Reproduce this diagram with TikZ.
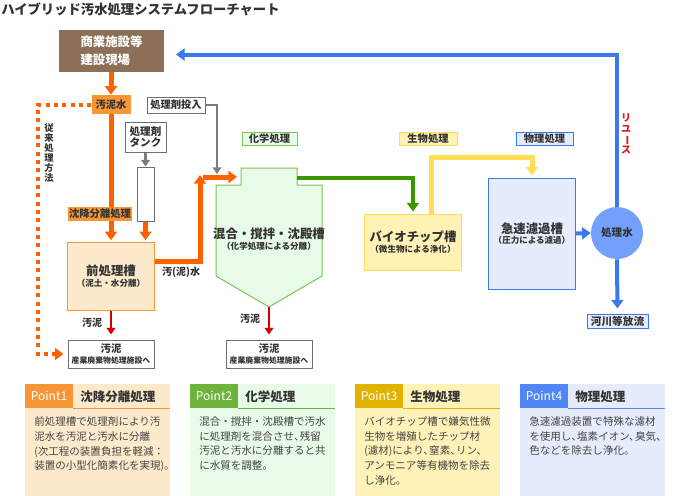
\documentclass[tikz,border=0pt]{standalone}
\usepackage{fontspec}
\setmainfont{Noto Sans CJK JP}
\usetikzlibrary{arrows.meta}
\definecolor{cbrown}{RGB}{139,111,86}
\definecolor{corange}{RGB}{255,96,0}
\definecolor{clorange}{RGB}{247,150,52}
\definecolor{cpre}{RGB}{253,234,204}
\definecolor{cgreen}{RGB}{60,150,0}
\definecolor{cgreenb}{RGB}{125,195,85}
\definecolor{cgreenf}{RGB}{232,251,232}
\definecolor{cyellow}{RGB}{255,222,85}
\definecolor{cyellowf}{RGB}{255,242,180}
\definecolor{cblue}{RGB}{60,120,240}
\definecolor{cbluef}{RGB}{230,236,252}
\definecolor{ccircle}{RGB}{115,160,250}
\definecolor{cred}{RGB}{210,0,0}
\definecolor{creuse}{RGB}{225,25,25}
\definecolor{cgray}{RGB}{125,125,125}
\definecolor{cborder}{RGB}{110,110,110}
\definecolor{ctext}{RGB}{51,51,51}
\definecolor{cbody}{RGB}{68,68,68}
\definecolor{cp1}{RGB}{247,150,52}
\definecolor{cp2}{RGB}{110,180,60}
\definecolor{cp3}{RGB}{226,178,0}
\definecolor{cp4}{RGB}{80,135,245}
\definecolor{cpf1}{RGB}{253,234,204}
\definecolor{cpf2}{RGB}{232,251,232}
\definecolor{cpf3}{RGB}{255,242,185}
\definecolor{cpf4}{RGB}{230,236,252}
\newcommand\myfs[2]{\fontsize{#1}{#2}\selectfont}
\newcommand\tc{、\kern-0.45em}
\begin{document}
\begin{tikzpicture}[x=0.75pt,y=-0.75pt,
  box/.style={inner sep=0, text=ctext, align=center},
  tag/.style={box, draw, line width=0.75pt, font=\bfseries\myfs{7.7pt}{9pt}},
  txt/.style={inner sep=0, text=ctext, align=center},
  maintxt/.style={txt, font=\bfseries\myfs{9.3pt}{11pt}},
  subtxt/.style={txt, font=\bfseries\myfs{6.4pt}{7pt}},
  oline/.style={draw=corange, line width=3.75pt, -{Triangle[width=9pt,length=6.5pt]}},
  gline/.style={draw=cgray, line width=1.6pt, -{Triangle[width=6.5pt,length=5pt]}},
  rline/.style={draw=cred, line width=1.6pt, -{Triangle[width=6.5pt,length=5pt]}},
  grline/.style={draw=cgreen, line width=3pt, -{Triangle[width=9pt,length=6.5pt]}},
  yline/.style={draw=cyellow, line width=3.75pt, -{Triangle[width=9pt,length=6.5pt]}},
  bline/.style={draw=cblue, line width=3pt, -{Triangle[width=9pt,length=6.5pt]}},
  ptag/.style={inner sep=0, minimum width=36pt, minimum height=18pt, text=white, font=\myfs{9pt}{10pt}},
  ptitle/.style={anchor=west, inner sep=0, text=ctext, font=\bfseries\myfs{9.4pt}{11pt}},
  pbody/.style={anchor=north west, inner sep=0, align=left, text=cbody, font=\myfs{7.9pt}{11pt}}
]
\useasboundingbox[fill=white] (0,0) rectangle (690,496);

% title
\node[anchor=west, inner sep=0, text=ctext, font=\bfseries\myfs{10pt}{12pt}] (title) at (1,9.5) {ハイブリッド汚水処理システムフローチャート};

% source
\node[box, fill=cbrown, minimum width=78.75pt, minimum height=31.5pt, text=white, font=\bfseries\myfs{9.3pt}{13.5pt}, align=left] (src) at (111.5,51) {商業施設等\\建設現場};

\node[box, fill=clorange, minimum width=29.25pt, minimum height=14.25pt, font=\bfseries\myfs{7.7pt}{9pt}] (sw) at (111,104.5) {汚泥水};

\node[tag, draw=cborder, fill=white, minimum width=43.5pt, minimum height=12pt] (dose) at (176,105) {処理剤投入};
\node[tag, draw=cborder, fill=white, minimum width=30.75pt, minimum height=22.5pt, font=\bfseries\myfs{7.9pt}{8.4pt}] (tanklbl) at (145.5,137) {処理剤\\タンク};
\node[draw=cborder, fill=white, line width=0.75pt, inner sep=0, minimum width=12.75pt, minimum height=40.5pt] (tube) at (145.5,194) {};

\node[draw=clorange, fill=cpre, line width=0.75pt, inner sep=0, minimum width=65.25pt, minimum height=51pt] (pre) at (111,276) {};
\node[maintxt] (preT1) at (111,271) {前処理槽};
\node[subtxt] (preT2) at (111,283.5) {（泥土・水分離）};

% conventional route
\node[txt, font=\bfseries\myfs{7pt}{7.5pt}] (conv) at (49,153) {従\\来\\処\\理\\方\\法};

% sludge boxes
\node[draw=cborder, fill=white, line width=0.75pt, inner sep=0, minimum width=64.5pt, minimum height=21pt] (sludgeL) at (111,354) {};
\node[txt, font=\bfseries\myfs{7.8pt}{9pt}] (sludgeLT1) at (111,348.5) {汚泥};
\node[txt, font=\bfseries\myfs{5.9pt}{7pt}] (sludgeLT2) at (111,360.5) {産業廃棄物処理施設へ};
\node[draw=cborder, fill=white, line width=0.75pt, inner sep=0, minimum width=64.5pt, minimum height=21pt] (sludgeR) at (269,354) {};
\node[txt, font=\bfseries\myfs{7.8pt}{9pt}] (sludgeRT1) at (269,348.5) {汚泥};
\node[txt, font=\bfseries\myfs{5.9pt}{7pt}] (sludgeRT2) at (269,360.5) {産業廃棄物処理施設へ};

% mixing tank
\draw[draw=cgreenb, fill=cgreenf, line width=0.75pt] (241,168) -- (297,168) -- (297,185) -- (322,185) -- (322,276) -- (269,307) -- (216,276) -- (216,185) -- (241,185) -- cycle;
\coordinate (neckW) at (241,177);
\coordinate (neckE) at (297,178);
\coordinate (tankB) at (269,307);
\node[maintxt] (mixT1) at (269,234) {混合・撹拌・沈殿槽};
\node[subtxt] (mixT2) at (269,246) {（化学処理による分離）};

\node[tag, draw=cgreenb, fill=cgreenf, minimum width=41.25pt, minimum height=9.75pt] (chem) at (269.5,138.5) {化学処理};
\node[tag, draw=cyellow, fill=cyellowf, minimum width=43.5pt, minimum height=9.75pt] (bioL) at (428,138.5) {生物処理};
\node[tag, draw=cblue, fill=cbluef, minimum width=42.75pt, minimum height=9.75pt] (physL) at (544.5,138.5) {物理処理};

% bio box
\node[draw=cyellow, fill=cyellowf, line width=0.75pt, inner sep=0, minimum width=72.75pt, minimum height=42pt] (bio) at (413,242) {};
\node[maintxt] (bioT1) at (413,237) {バイオチップ槽};
\node[subtxt] (bioT2) at (413,249) {（微生物による浄化）};

% filter
\node[draw=cblue, fill=cbluef, line width=0.75pt, inner sep=0, minimum width=65.25pt, minimum height=83.25pt] (filt) at (532,233.5) {};
\node[maintxt] (filtT1) at (532,228.5) {急速濾過槽};
\node[subtxt] (filtT2) at (532,240.5) {（圧力による濾過）};

\node[circle, fill=ccircle, inner sep=0, minimum size=39pt, text=ctext, font=\bfseries\myfs{7.9pt}{9pt}] (circ) at (617,233) {処理水};
\node[tag, draw=cblue, fill=cbluef, minimum width=45.75pt, minimum height=10.5pt, font=\bfseries\myfs{8pt}{9pt}] (river) at (617.5,321) {河川等放流};
\node[txt, text=creuse, font=\bfseries\myfs{7.5pt}{7.9pt}] (reuse) at (626,134) {リ\\ユ\\\rotatebox[origin=c]{-90}{ー}\\ス};
\coordinate (reuseEnd) at (170,54.5);

% labels on arrows
\node[txt, font=\bfseries\myfs{7.5pt}{9pt}] (lblSL) at (92,323) {汚泥};
\node[txt, font=\bfseries\myfs{7.5pt}{9pt}] (lblSR) at (250,319) {汚泥};
\node[txt, font=\bfseries\myfs{7.5pt}{9pt}] (lblOut) at (181,272.5) {汚(泥)水};

% connectors
\draw[oline] (src.south -| sw.north) -- (sw.north);
\draw[draw=corange, line width=3pt, dash pattern=on 3pt off 3.25pt, -{Triangle[width=9pt,length=6.5pt]}, shorten >=3pt] (sw.west) -- ++(-53,0) |- (sludgeL.west);
\draw[oline, shorten >=1pt] (sw.south) -- (pre.north);
\node[box, fill=clorange, minimum width=48pt, minimum height=10.5pt, font=\bfseries\myfs{7.7pt}{9pt}] (sedi) at (100,214) {沈降分離処理};
\draw[gline] (tanklbl.south) -- (tube.north);
\draw[oline, shorten >=1pt] (tube.south) -- (pre.north -| tube.south);
\coordinate (elbowUp) at (200,175);
\coordinate (elbowR) at (203,177);
\draw[oline] ([yshift=11.25pt]pre.east) -| (elbowUp);
\draw[oline, shorten >=3pt] (elbowR) -- (neckW);
\coordinate (grayEnd) at (217,174);
\draw[gline] (dose.east) -| (grayEnd);
\draw[grline, shorten >=1.5pt] (neckE) -| (bio.north);
\draw[yline, shorten >=1.5pt] ([xshift=13.5pt]bio.north) -- ++(0,-56) -| (filt.north);
\draw[bline] (filt.east) -- (circ.west);
\draw[bline, shorten >=4.5pt] (circ.north) |- (reuseEnd);
\draw[bline, shorten >=3.75pt] (circ.south) -- (river.north);
\draw[rline, shorten >=3.75pt] (pre.south) -- (sludgeL.north);
\draw[rline, shorten >=3.75pt] (tankB) -- (sludgeR.north);

% panels
\fill[cpf1] (25,384) rectangle (170,496);
\node[ptag, fill=cp1] (p1tag) at (49,396) {Point1};
\node[ptitle] (p1title) at (80,396.5) {沈降分離処理};
\draw[cp1, line width=0.75pt] (p1tag.south east) -- ++(97,0);
\node[pbody] (p1body) at (34,416.5) {前処理槽で処理剤により汚\\泥水を汚泥と汚水に分離\\(次工程の装置負担を軽減：\\装置の小型化簡素化を実現)。};

\fill[cpf2] (190,384) rectangle (335,496);
\node[ptag, fill=cp2] (p2tag) at (214,396) {Point2};
\node[ptitle] (p2title) at (245,396.5) {化学処理};
\draw[cp2, line width=0.75pt] (p2tag.south east) -- ++(97,0);
\node[pbody] (p2body) at (199,416.5) {混合・撹拌・沈殿槽で汚水\\に処理剤を混合させ\tc 残留\\汚泥と汚水に分離すると共\\に水質を調整。};

\fill[cpf3] (355,384) rectangle (500,496);
\node[ptag, fill=cp3] (p3tag) at (379,396) {Point3};
\node[ptitle] (p3title) at (410,396.5) {生物処理};
\draw[cp3, line width=0.75pt] (p3tag.south east) -- ++(97,0);
\node[pbody] (p3body) at (364,416.5) {バイオチップ槽で嫌気性微\\生物を増殖したチップ材\\(濾材)により\tc 窒素\tc リン\tc\\アンモニア等有機物を除去\\し浄化。};

\fill[cpf4] (520,384) rectangle (665,496);
\node[ptag, fill=cp4] (p4tag) at (544,396) {Point4};
\node[ptitle] (p4title) at (575,396.5) {物理処理};
\draw[cp4, line width=0.75pt] (p4tag.south east) -- ++(97,0);
\node[pbody] (p4body) at (529,416.5) {急速濾過装置で特殊な濾材\\を使用し\tc 塩素イオン\tc 臭気\tc\\色などを除去し浄化。};
\end{tikzpicture}
\end{document}
